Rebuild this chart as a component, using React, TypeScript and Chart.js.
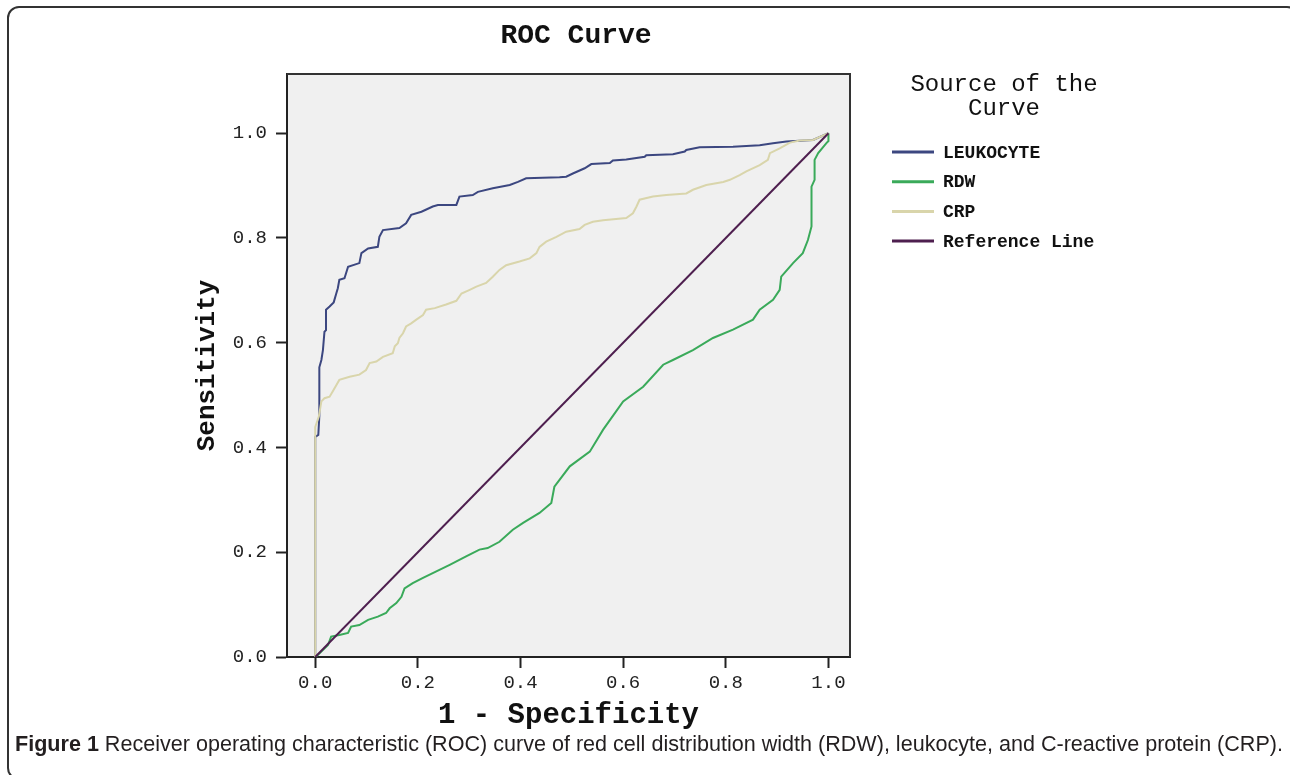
import React, { useEffect, useRef } from "react";
import { Chart, registerables } from "chart.js";

Chart.register(...registerables);

// ---------- text ----------
const chartTitle = "ROC Curve";
const legendTitle = ["Source of the", "Curve"];
const xAxisTitle = "1 - Specificity";
const yAxisTitle = "Sensitivity";
const captionBold = "Figure 1";
const captionText =
  " Receiver operating characteristic (ROC) curve of red cell distribution width (RDW), leukocyte, and C-reactive protein (CRP).";

// ---------- axes ----------
const xTicks = [0, 0.2, 0.4, 0.6, 0.8, 1.0];
const yTicks = [0, 0.2, 0.4, 0.6, 0.8, 1.0];

// ---------- series ----------
const seriesNames = ["LEUKOCYTE", "RDW", "CRP", "Reference Line"];
const seriesColors = ["#3c4780", "#3aaa5a", "#d9d5ab", "#4e1f4f"];

const leukocyte: [number, number][] = [
  [0, 0], [0, 0.42], [0.006, 0.424], [0.008, 0.46], [0.008, 0.553], [0.012, 0.567],
  [0.015, 0.586], [0.018, 0.621], [0.021, 0.624], [0.021, 0.663], [0.028, 0.669],
  [0.036, 0.677], [0.041, 0.694], [0.044, 0.704], [0.047, 0.72], [0.057, 0.723],
  [0.064, 0.745], [0.086, 0.752], [0.09, 0.771], [0.103, 0.78], [0.122, 0.783],
  [0.125, 0.802], [0.132, 0.815], [0.164, 0.819], [0.177, 0.828], [0.187, 0.844],
  [0.207, 0.85], [0.229, 0.86], [0.239, 0.863], [0.275, 0.863], [0.281, 0.879],
  [0.307, 0.882], [0.317, 0.888], [0.346, 0.895], [0.379, 0.901], [0.395, 0.907],
  [0.411, 0.914], [0.476, 0.916], [0.489, 0.917], [0.502, 0.923], [0.525, 0.933],
  [0.538, 0.941], [0.574, 0.943], [0.58, 0.948], [0.606, 0.95], [0.642, 0.955],
  [0.645, 0.958], [0.697, 0.96], [0.72, 0.965], [0.723, 0.968], [0.749, 0.973],
  [0.814, 0.974], [0.866, 0.977], [0.892, 0.981], [0.918, 0.984], [0.97, 0.987],
  [1, 1],
];

const rdw: [number, number][] = [
  [0, 0], [0.005, 0.004], [0.025, 0.023], [0.031, 0.039], [0.047, 0.042], [0.064, 0.046],
  [0.07, 0.058], [0.086, 0.061], [0.103, 0.071], [0.122, 0.077], [0.138, 0.084],
  [0.145, 0.093], [0.158, 0.103], [0.168, 0.115], [0.174, 0.131], [0.19, 0.141],
  [0.21, 0.151], [0.229, 0.16], [0.262, 0.176], [0.294, 0.192], [0.32, 0.205],
  [0.336, 0.208], [0.359, 0.22], [0.385, 0.243], [0.405, 0.256], [0.437, 0.275],
  [0.46, 0.294], [0.466, 0.325], [0.476, 0.338], [0.496, 0.364], [0.535, 0.392],
  [0.561, 0.434], [0.6, 0.488], [0.639, 0.516], [0.678, 0.558], [0.697, 0.567],
  [0.736, 0.586], [0.775, 0.609], [0.814, 0.625], [0.853, 0.644], [0.866, 0.663],
  [0.892, 0.682], [0.905, 0.701], [0.908, 0.726], [0.931, 0.752], [0.95, 0.771],
  [0.96, 0.796], [0.967, 0.822], [0.967, 0.898], [0.973, 0.911], [0.973, 0.949],
  [0.98, 0.962], [0.996, 0.981], [1, 0.985], [1, 1],
];

const crp: [number, number][] = [
  [0, 0], [0, 0.439], [0.007, 0.459], [0.012, 0.488], [0.018, 0.494], [0.028, 0.497],
  [0.034, 0.507], [0.041, 0.519], [0.047, 0.529], [0.067, 0.535], [0.086, 0.539],
  [0.099, 0.548], [0.106, 0.561], [0.119, 0.564], [0.132, 0.573], [0.151, 0.58],
  [0.155, 0.593], [0.161, 0.599], [0.164, 0.609], [0.171, 0.618], [0.177, 0.631],
  [0.187, 0.637], [0.197, 0.644], [0.21, 0.653], [0.216, 0.663], [0.233, 0.666],
  [0.255, 0.673], [0.275, 0.68], [0.285, 0.694], [0.301, 0.701], [0.314, 0.707],
  [0.333, 0.714], [0.346, 0.726], [0.359, 0.739], [0.372, 0.748], [0.398, 0.755],
  [0.418, 0.761], [0.431, 0.771], [0.437, 0.783], [0.45, 0.793], [0.47, 0.802],
  [0.489, 0.812], [0.515, 0.817], [0.525, 0.825], [0.541, 0.831], [0.561, 0.834],
  [0.606, 0.838], [0.619, 0.847], [0.626, 0.86], [0.632, 0.873], [0.658, 0.879],
  [0.684, 0.882], [0.723, 0.885], [0.736, 0.892], [0.762, 0.901], [0.795, 0.907],
  [0.808, 0.911], [0.827, 0.92], [0.84, 0.927], [0.866, 0.939], [0.882, 0.949],
  [0.886, 0.962], [0.905, 0.971], [0.925, 0.982], [0.944, 0.986], [0.97, 0.987],
  [1, 1],
];

const referenceLine: [number, number][] = [
  [0, 0],
  [1, 1],
];

const seriesData = [leukocyte, rdw, crp, referenceLine];
const drawOrder = [3, 2, 1, 0];

const MONO = '"Liberation Mono", "Courier New", monospace';

const W = 1290;
const H = 775;

const decorPlugin = {
  id: "decor",
  beforeDraw(chart: any) {
    const ctx = chart.ctx;
    const { left, top, right, bottom } = chart.chartArea;
    ctx.save();
    ctx.fillStyle = "#ffffff";
    ctx.fillRect(0, 0, W, H);
    // figure frame
    ctx.strokeStyle = "#333333";
    ctx.lineWidth = 2;
    ctx.beginPath();
    ctx.roundRect(8, 7, 1290, 772, 11);
    ctx.stroke();
    // plot background
    ctx.fillStyle = "#f0f0f0";
    ctx.fillRect(left, top, right - left, bottom - top);
    ctx.restore();
  },
  afterDraw(chart: any) {
    const ctx = chart.ctx;
    const { left, top, right, bottom } = chart.chartArea;
    ctx.save();
    // plot frame (top / right)
    ctx.strokeStyle = "#333333";
    ctx.lineWidth = 2;
    ctx.beginPath();
    ctx.moveTo(left, top);
    ctx.lineTo(right, top);
    ctx.lineTo(right, bottom);
    ctx.stroke();

    // title
    ctx.fillStyle = "#111111";
    ctx.textAlign = "center";
    ctx.textBaseline = "middle";
    ctx.font = `bold 28px ${MONO}`;
    ctx.fillText(chartTitle, 576, 36);

    // legend
    ctx.font = `24px ${MONO}`;
    legendTitle.forEach((t, i) => ctx.fillText(t, 1004, 85 + i * 24));
    ctx.textAlign = "left";
    ctx.font = `bold 18px ${MONO}`;
    seriesNames.forEach((name, i) => {
      const y = 152 + i * 29.7;
      ctx.strokeStyle = seriesColors[i];
      ctx.lineWidth = 3;
      ctx.beginPath();
      ctx.moveTo(892, y);
      ctx.lineTo(934, y);
      ctx.stroke();
      ctx.fillStyle = "#111111";
      ctx.fillText(name, 943, y + 1);
    });

    // caption
    const capFontBold = 'bold 22px "Liberation Sans", Arial, sans-serif';
    const capFont = '22px "Liberation Sans", Arial, sans-serif';
    ctx.font = capFontBold;
    const wb = ctx.measureText(captionBold).width;
    ctx.font = capFont;
    const wt = ctx.measureText(captionText).width;
    const target = 1283 - 15;
    const sx = target / (wb + wt);
    ctx.translate(15, 745);
    ctx.scale(sx, 1);
    ctx.fillStyle = "#231f20";
    ctx.textBaseline = "middle";
    ctx.font = capFontBold;
    ctx.fillText(captionBold, 0, 0);
    ctx.font = capFont;
    ctx.fillText(captionText, wb, 0);
    ctx.restore();
  },
};

export default function App() {
  const canvasRef = useRef<HTMLCanvasElement | null>(null);

  useEffect(() => {
    const canvas = canvasRef.current;
    if (!canvas) return;
    const chart = new Chart(canvas, {
      type: "line",
      data: {
        datasets: seriesNames.map((name, i) => ({
          label: name,
          data: seriesData[i].map(([x, y]) => ({ x, y })),
          borderColor: seriesColors[i],
          backgroundColor: seriesColors[i],
          borderWidth: 2,
          pointRadius: 0,
          tension: 0,
          fill: false,
          order: drawOrder[i],
        })),
      },
      options: {
        animation: false,
        responsive: false,
        devicePixelRatio: 1,
        layout: { padding: { left: 192, top: 74, right: 440, bottom: 42 } },
        plugins: {
          legend: { display: false },
          title: { display: false },
          tooltip: { enabled: false },
        },
        scales: {
          x: {
            type: "linear",
            min: -0.055,
            max: 1.042,
            afterBuildTicks: (s: any) => {
              s.ticks = xTicks.map((v) => ({ value: v }));
            },
            afterFit: (s: any) => {
              s.height = 76;
            },
            ticks: {
              callback: (v: any) => Number(v).toFixed(1),
              font: { family: MONO, size: 19 },
              color: "#222222",
              padding: 4,
              maxRotation: 0,
              autoSkip: false,
            },
            grid: {
              drawOnChartArea: false,
              drawTicks: true,
              tickLength: 11,
              tickColor: "#222222",
              tickWidth: 2,
            },
            border: { display: true, color: "#222222", width: 2 },
            title: {
              display: true,
              text: xAxisTitle,
              font: { family: MONO, size: 29, weight: "bold" },
              color: "#111111",
              padding: 0,
            },
          },
          y: {
            type: "linear",
            min: 0,
            max: 1.113,
            afterBuildTicks: (s: any) => {
              s.ticks = yTicks.map((v) => ({ value: v }));
            },
            afterFit: (s: any) => {
              s.width = 95;
            },
            ticks: {
              callback: (v: any) => Number(v).toFixed(1),
              font: { family: MONO, size: 19 },
              color: "#222222",
              padding: 9,
              autoSkip: false,
            },
            grid: {
              drawOnChartArea: false,
              drawTicks: true,
              tickLength: 11,
              tickColor: "#222222",
              tickWidth: 2,
            },
            border: { display: true, color: "#222222", width: 2 },
            title: {
              display: true,
              text: yAxisTitle,
              font: { family: MONO, size: 26, weight: "bold" },
              color: "#111111",
              padding: 0,
            },
          },
        },
      },
      plugins: [decorPlugin],
    });
    return () => chart.destroy();
  }, []);

  return (
    <canvas
      ref={canvasRef}
      width={W}
      height={H}
      style={{ position: "absolute", left: 0, top: 0, display: "block" }}
    />
  );
}
